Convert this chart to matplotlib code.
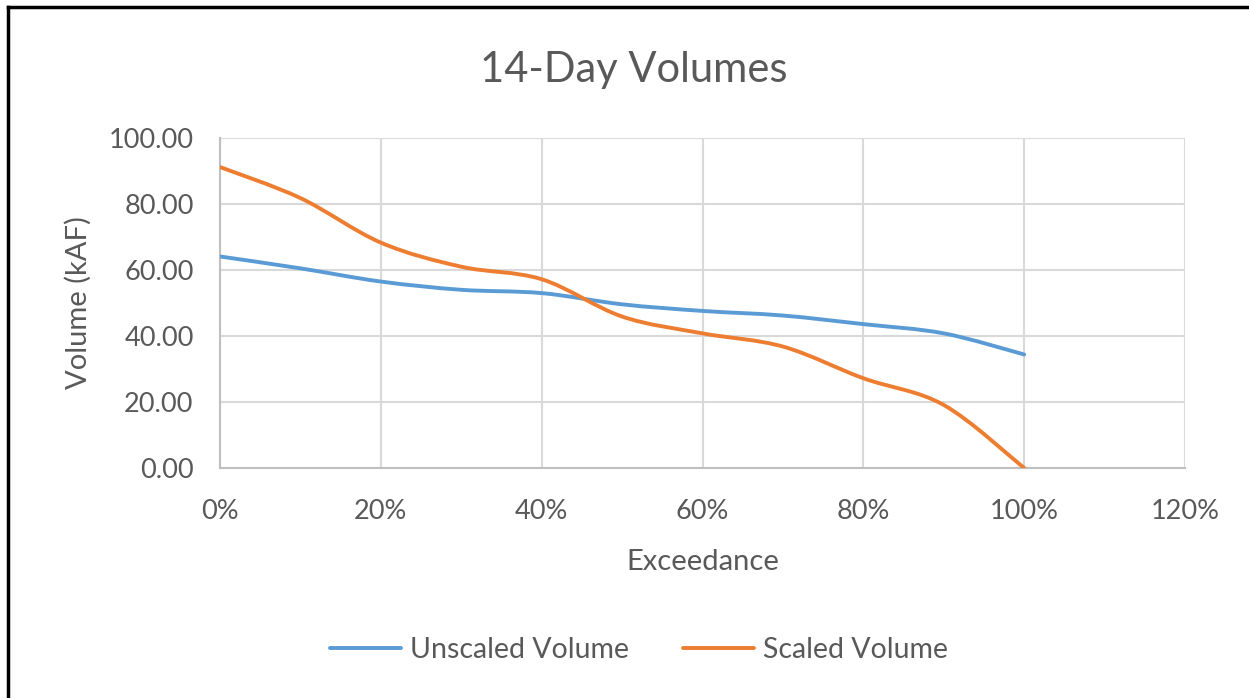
import numpy as np
import matplotlib
matplotlib.use("Agg")
import matplotlib.pyplot as plt
from matplotlib.path import Path
from matplotlib.patches import PathPatch
from matplotlib.lines import Line2D
from matplotlib.ticker import FuncFormatter, MultipleLocator

# ---- data ----
exceedance = [0.0, 0.1, 0.2, 0.3, 0.4, 0.5, 0.6, 0.7, 0.8, 0.9, 1.0]
unscaled_volume = [64.1, 60.5, 56.5, 54.0, 53.0, 49.6, 47.6, 46.2, 43.6, 40.8, 34.4]
scaled_volume = [91.2, 81.8, 68.3, 61.0, 57.2, 45.9, 40.8, 36.8, 27.2, 19.1, 0.0]
series_names = ["Unscaled Volume", "Scaled Volume"]
series_colors = ["#5B9BD5", "#ED7D31"]

title = "14-Day Volumes"
xlabel = "Exceedance"
ylabel = "Volume (kAF)"

FONT = "Lato"
TXT = "#595959"
plt.rcParams['font.family'] = [FONT, 'DejaVu Sans']

fig = plt.figure(figsize=(12.49, 6.98), dpi=100)
ax = fig.add_axes([220/1249, 1-468/698, (1185-220)/1249, (468-138)/698])


def smooth_path(xs, ys):
    pts = np.column_stack([xs, ys]).astype(float)
    n = len(pts)
    verts = [pts[0]]
    codes = [Path.MOVETO]
    for i in range(n - 1):
        p0 = pts[i - 1] if i > 0 else pts[i]
        p1 = pts[i]
        p2 = pts[i + 1]
        p3 = pts[i + 2] if i + 2 < n else pts[i + 1]
        c1 = p1 + (p2 - p0) / 6.0
        c2 = p2 - (p3 - p1) / 6.0
        verts += [c1, c2, p2]
        codes += [Path.CURVE4] * 3
    return Path(verts, codes)


for ys, col in zip([unscaled_volume, scaled_volume], series_colors):
    patch = PathPatch(smooth_path(exceedance, ys), facecolor='none', edgecolor=col,
                      lw=2.8, capstyle='round', joinstyle='round', zorder=3)
    ax.add_patch(patch)

ax.set_xlim(0, 1.2)
ax.set_ylim(0, 100)
ax.xaxis.set_major_locator(MultipleLocator(0.2))
ax.yaxis.set_major_locator(MultipleLocator(20))
ax.xaxis.set_major_formatter(FuncFormatter(lambda v, p: f"{v*100:.0f}%"))
ax.yaxis.set_major_formatter(FuncFormatter(lambda v, p: f"{v:.2f}"))
ax.grid(True, color="#D9D9D9", lw=1.5)
ax.set_axisbelow(True)
for s in ['top', 'right']:
    ax.spines[s].set_visible(False)
for s in ['left', 'bottom']:
    ax.spines[s].set_color("#BFBFBF")
    ax.spines[s].set_linewidth(1.5)
ax.tick_params(length=0, labelsize=19.5, labelcolor=TXT)
ax.tick_params(axis='x', pad=22)
ax.tick_params(axis='y', pad=19)

ax.set_xlabel(xlabel, fontsize=21, color=TXT, labelpad=18)
ax.set_ylabel(ylabel, fontsize=21, color=TXT, labelpad=12)

fig.text(634/1249, 1-70/698, title, ha='center', va='center', fontsize=30, color=TXT)

handles = [Line2D([0], [0], color=c, lw=2.8, solid_capstyle='round') for c in series_colors]
fig.legend(handles, series_names, loc='center', bbox_to_anchor=(639/1249, 1-650/698),
           ncol=2, frameon=False, fontsize=20.5, labelcolor=TXT, handlelength=2.5,
           handletextpad=0.3, columnspacing=1.9)

# outer frame (top and left edges visible)
fig.add_artist(Line2D([8/1249, 1], [1-7/698, 1-7/698], color='black', lw=2.5, transform=fig.transFigure))
fig.add_artist(Line2D([8/1249, 8/1249], [0, 1-7/698], color='black', lw=2.5, transform=fig.transFigure))

fig.savefig("out.png", dpi=100, facecolor='white')
